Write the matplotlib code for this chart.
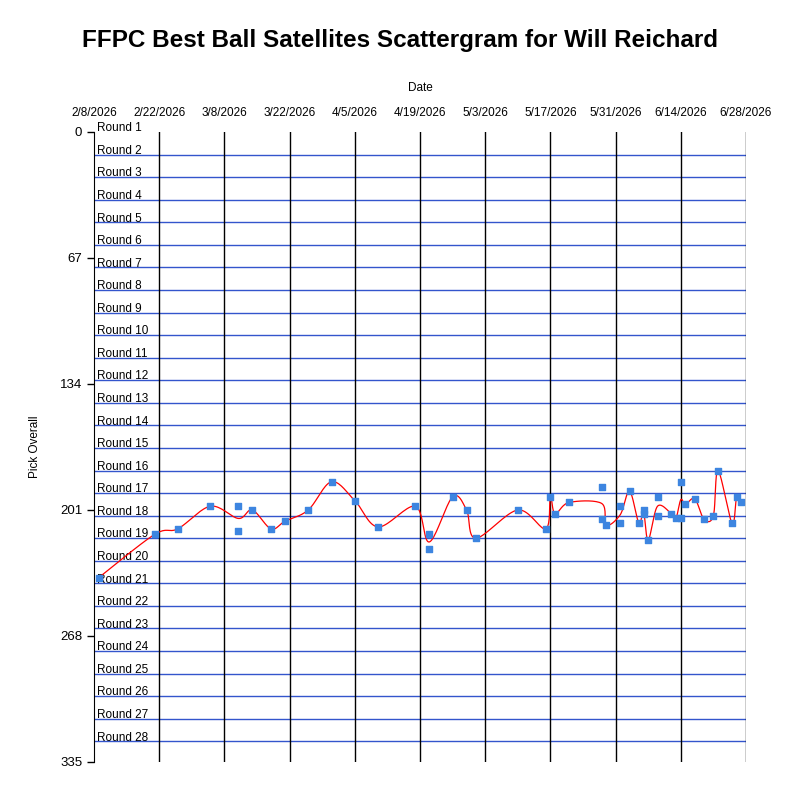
import matplotlib
matplotlib.use("Agg")
import matplotlib.pyplot as plt
import numpy as np
import datetime as dt
import matplotlib.dates as mdates

plt.rcParams['font.family'] = ['Liberation Sans', 'DejaVu Sans']

start = dt.date(2026, 2, 8)
day_offsets = [1, 13, 18, 25, 31, 31, 34, 38, 41, 46, 51, 56, 61, 69, 72, 72, 77, 80, 82, 91, 97, 98, 99, 102,
               109, 109, 110, 113, 113, 115, 117, 118, 118, 119, 121, 121, 124, 125, 126, 126, 127, 129, 131, 133,
               134, 137, 138, 139]
picks = [237, 214, 211, 199, 199, 212, 201, 211, 207, 201, 186, 196, 210, 199, 214, 222, 194, 201, 216, 201, 211,
         194, 203, 197, 189, 206, 209, 199, 208, 191, 208, 201, 203, 217, 194, 204, 203, 205, 186, 205, 198, 195,
         206, 204, 180, 208, 194, 197]
rounds = [f"Round {k}" for k in range(1, 29)]
yticks = [0, 67, 134, 201, 268, 335]

d = np.array(day_offsets, float)
p = np.array(picks, float)
ux = np.unique(d)
uy = np.array([p[d == u].mean() for u in ux])

# cardinal spline
def cardinal(x, y, t=0.5, n=20):
    X, Y = [], []
    for i in range(len(x) - 1):
        x0, y0 = (x[i - 1], y[i - 1]) if i > 0 else (x[i], y[i])
        x3, y3 = (x[i + 2], y[i + 2]) if i + 2 < len(x) else (x[i + 1], y[i + 1])
        x1, y1, x2, y2 = x[i], y[i], x[i + 1], y[i + 1]
        m1x, m1y = t * (x2 - x0), t * (y2 - y0)
        m2x, m2y = t * (x3 - x1), t * (y3 - y1)
        s = np.linspace(0, 1, n)
        h00 = 2*s**3 - 3*s**2 + 1; h10 = s**3 - 2*s**2 + s
        h01 = -2*s**3 + 3*s**2; h11 = s**3 - s**2
        X.append(h00*x1 + h10*m1x + h01*x2 + h11*m2x)
        Y.append(h00*y1 + h10*m1y + h01*y2 + h11*m2y)
    return np.concatenate(X), np.concatenate(Y)

sx, sy = cardinal(ux, uy)
base = mdates.date2num(start)

fig = plt.figure(figsize=(8, 8), dpi=100)
ax = fig.add_axes([94/800, 1 - 762/800, (746-94)/800, (762-132)/800])
ax.set_xlim(base, base + 140)
ax.set_ylim(335, 0)

for k in range(1, 28):
    ax.axhline(12 * k, color='#3355cc', lw=1, zorder=1)
for k in range(1, 11):
    ax.axvline(base + 14 * k, color='black', lw=1, zorder=1)
for k, r in enumerate(rounds, start=1):
    ax.text(base + 0.7, 12 * k - 14, r, fontsize=8.5, va='center', ha='left', zorder=2)

ax.plot(base + sx, sy, color='red', lw=0.9, zorder=3)
ax.scatter(base + d, p, marker='s', s=14, color='#3d85e0', zorder=4)

xt = [base + 14 * k for k in range(11)]
ax.set_xticks(xt)
ax.set_xticklabels([f"{(start + dt.timedelta(days=14*k)).month}/{(start + dt.timedelta(days=14*k)).day}/2026" for k in range(11)], fontsize=8.5)
ax.xaxis.tick_top()
ax.xaxis.set_label_position('top')
ax.tick_params(axis='x', length=0, pad=9)
ax.set_yticks(yticks)
ax.set_yticklabels([str(v) for v in yticks], fontsize=9.5)
ax.tick_params(axis='y', length=5, width=1)
ax.set_xlabel("Date", fontsize=8.5, labelpad=12)
ax.set_ylabel("Pick Overall", fontsize=8.5, labelpad=14)
ax.spines['right'].set_visible(False)
ax.spines['bottom'].set_visible(False)
ax.spines['top'].set_visible(False)

fig.text(0.5, 1 - 40/800, "FFPC Best Ball Satellites Scattergram for Will Reichard", ha='center', va='center',
         fontsize=17.5, fontweight='bold')
fig.savefig("out.png", dpi=100)
